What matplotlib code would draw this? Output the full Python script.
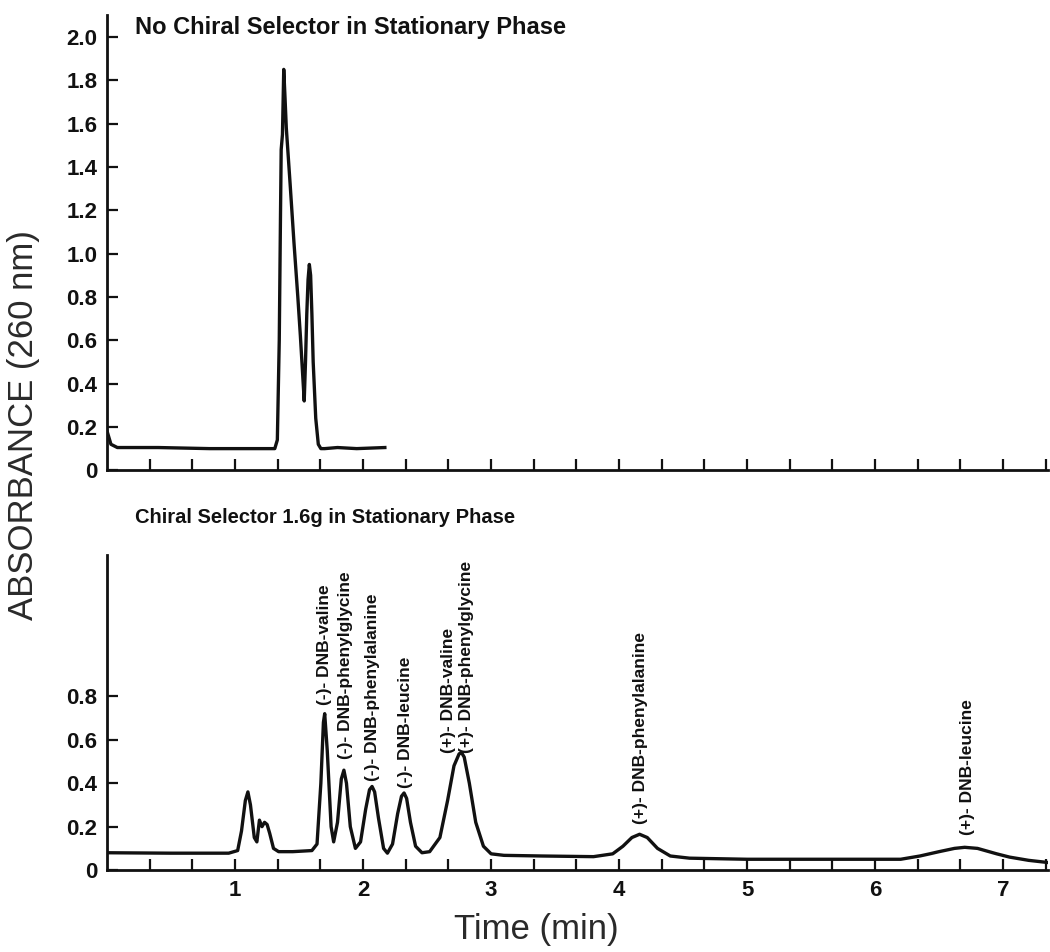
import numpy as np
from matplotlib import pyplot as plt

# top trace: no chiral selector
top_time = [0.00, 0.03, 0.08, 0.40, 0.80, 1.00, 1.20, 1.31, 1.33, 1.345,
            1.355, 1.36, 1.37, 1.38, 1.39, 1.40, 1.43, 1.46, 1.49, 1.51,
            1.53, 1.54, 1.55, 1.56, 1.57, 1.58, 1.59, 1.60, 1.61, 1.63,
            1.65, 1.67, 1.70, 1.80, 1.95, 2.17]
top_abs = [0.18, 0.12, 0.105, 0.105, 0.10, 0.10, 0.10, 0.10, 0.14, 0.60,
           1.20, 1.48, 1.55, 1.85, 1.72, 1.58, 1.32, 1.05, 0.80, 0.62,
           0.42, 0.32, 0.50, 0.72, 0.88, 0.95, 0.90, 0.72, 0.50, 0.24,
           0.12, 0.10, 0.10, 0.105, 0.10, 0.105]

# bottom trace: chiral selector 1.6g
bot_time = [0.00, 0.50, 0.95, 1.02, 1.05, 1.08, 1.10, 1.12, 1.15, 1.17,
            1.19, 1.21, 1.23, 1.25, 1.27, 1.30, 1.34, 1.45, 1.60, 1.64,
            1.67, 1.69, 1.70, 1.72, 1.75, 1.77, 1.80, 1.83, 1.85, 1.87,
            1.90, 1.94, 1.98, 2.02, 2.05, 2.07, 2.09, 2.12, 2.16, 2.19,
            2.23, 2.27, 2.30, 2.32, 2.34, 2.37, 2.41, 2.46, 2.52, 2.60,
            2.66, 2.71, 2.75, 2.77, 2.79, 2.83, 2.88, 2.94, 3.00, 3.10,
            3.40, 3.80, 3.95, 4.03, 4.10, 4.16, 4.22, 4.30, 4.40, 4.55,
            5.00, 5.50, 6.00, 6.20, 6.35, 6.50, 6.62, 6.70, 6.80, 6.95,
            7.05, 7.20, 7.35]
bot_abs = [0.080, 0.078, 0.078, 0.09, 0.18, 0.32, 0.36, 0.30, 0.15, 0.13,
           0.23, 0.20, 0.22, 0.21, 0.17, 0.10, 0.085, 0.085, 0.09, 0.12,
           0.40, 0.68, 0.72, 0.55, 0.20, 0.13, 0.22, 0.42, 0.46, 0.40,
           0.20, 0.10, 0.13, 0.28, 0.37, 0.385, 0.36, 0.24, 0.10, 0.078,
           0.12, 0.26, 0.34, 0.355, 0.33, 0.22, 0.11, 0.08, 0.085, 0.15,
           0.32, 0.48, 0.535, 0.54, 0.52, 0.40, 0.22, 0.11, 0.075, 0.068,
           0.065, 0.062, 0.075, 0.11, 0.15, 0.165, 0.15, 0.10, 0.065, 0.055,
           0.05, 0.05, 0.05, 0.05, 0.065, 0.085, 0.10, 0.105, 0.10, 0.075,
           0.06, 0.045, 0.035]

peak_names = ["(-)- DNB-valine", "(-)- DNB-phenylglycine", "(-)- DNB-phenylalanine",
              "(-)- DNB-leucine", "(+)- DNB-valine", "(+)- DNB-phenylglycine",
              "(+)- DNB-phenylalanine", "(+)- DNB-leucine"]
peak_x = [1.70, 1.86, 2.07, 2.33, 2.67, 2.81, 4.17, 6.72]
peak_y = [0.76, 0.51, 0.41, 0.38, 0.54, 0.54, 0.21, 0.16]

top_yticks = [0, 0.2, 0.4, 0.6, 0.8, 1.0, 1.2, 1.4, 1.6, 1.8, 2.0]
top_ylabels = ["0", "0.2", "0.4", "0.6", "0.8", "1.0", "1.2", "1.4", "1.6", "1.8", "2.0"]
bot_yticks = [0, 0.2, 0.4, 0.6, 0.8]
bot_ylabels = ["0", "0.2", "0.4", "0.6", "0.8"]
xticks = [1, 2, 3, 4, 5, 6, 7]

plt.rcParams['font.family'] = ['Liberation Sans', 'DejaVu Sans']

fig = plt.figure(figsize=(10.5, 9.52), dpi=100)
ax1 = fig.add_axes([0.102, 0.506, 0.896, 0.478])
ax2 = fig.add_axes([0.102, 0.086, 0.896, 0.331])

minor = [v / 3.0 for v in range(1, 23) if v % 3 != 0]

for ax in (ax1, ax2):
    for s in ('top', 'right'):
        ax.spines[s].set_visible(False)
    for s in ('left', 'bottom'):
        ax.spines[s].set_linewidth(2.0)
        ax.spines[s].set_color('#111111')
    ax.set_xlim(0, 7.35)
    ax.set_xticks(xticks)
    ax.set_xticks(minor, minor=True)
    ax.tick_params(axis='both', which='both', direction='in', length=8, width=1.6,
                   colors='#111111', labelsize=16, pad=7)

ax1.plot(top_time, top_abs, color='#111111', lw=2.4)
ax1.set_ylim(0, 2.1)
ax1.set_yticks(top_yticks)
ax1.set_yticklabels(top_ylabels, fontweight='bold')
ax1.set_xticklabels([])

ax2.plot(bot_time, bot_abs, color='#111111', lw=2.4)
ax2.set_ylim(0, 1.45)
ax2.set_yticks(bot_yticks)
ax2.set_yticklabels(bot_ylabels, fontweight='bold')
ax2.set_xticklabels([str(v) for v in xticks], fontweight='bold')

for name, px, py in zip(peak_names, peak_x, peak_y):
    ax2.text(px, py, name, rotation=90, ha='center', va='bottom', fontsize=12.5,
             fontweight='bold', color='#111111')

fig.text(0.129, 0.971, "No Chiral Selector in Stationary Phase", fontsize=17,
         fontweight='bold', ha='left', va='center', color='#111111')
fig.text(0.129, 0.456, "Chiral Selector 1.6g in Stationary Phase", fontsize=14.5,
         fontweight='bold', ha='left', va='center', color='#111111')
fig.text(0.022, 0.553, "ABSORBANCE (260 nm)", fontsize=25, rotation=90,
         ha='center', va='center', color='#2a2a2a')
fig.text(0.511, 0.024, "Time (min)", fontsize=25, ha='center', va='center',
         color='#2a2a2a')

fig.savefig('out.png', dpi=100)
